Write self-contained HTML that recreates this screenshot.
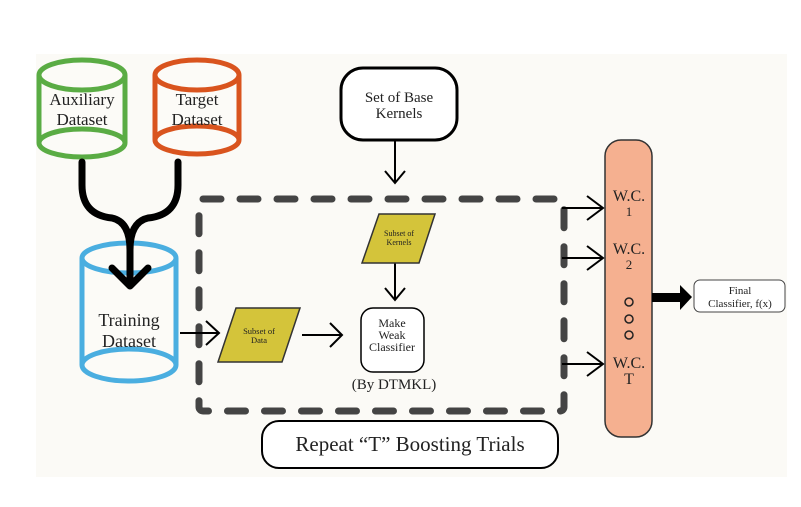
<!DOCTYPE html>
<html><head><meta charset="utf-8"><style>
html,body{margin:0;padding:0;background:#fff;}
svg{display:block;}
text{font-family:"Liberation Serif",serif;fill:#222;}
</style></head><body>
<svg width="801" height="507" viewBox="0 0 801 507" xmlns="http://www.w3.org/2000/svg">
<rect x="36" y="54" width="751" height="423" fill="#fbfaf6"/>
<!-- Aux cylinder -->
<g fill="#fcfbf7" stroke="#5aac44" stroke-width="5">
<path d="M39,75 L39,143 A43,14 0 0 0 125,143 L125,75"/>
<ellipse cx="82" cy="75" rx="43" ry="15"/>
<path d="M39,143 A43,14 0 0 1 125,143"/>
</g>
<text x="82" y="105" font-size="17" text-anchor="middle">Auxiliary</text>
<text x="82" y="125" font-size="17" text-anchor="middle">Dataset</text>
<!-- Target -->
<g fill="#fcfbf7" stroke="#d9541e" stroke-width="5">
<path d="M155,75 L155,140 A42,14 0 0 0 239,140 L239,75"/>
<ellipse cx="197" cy="75" rx="42" ry="15"/>
<path d="M155,140 A42,14 0 0 1 239,140"/>
</g>
<text x="197" y="105" font-size="17" text-anchor="middle">Target</text>
<text x="197" y="125" font-size="17" text-anchor="middle">Dataset</text>
<!-- Training -->
<g fill="#fcfbf7" stroke="#4aaee0" stroke-width="5">
<path d="M82,258 L82,365 A47,16 0 0 0 176,365 L176,258"/>
<ellipse cx="129" cy="258" rx="47" ry="15"/>
<path d="M82,365 A47,16 0 0 1 176,365"/>
</g>
<!-- merge arrows -->
<g fill="none" stroke="#000" stroke-width="7" stroke-linecap="round" stroke-linejoin="round">
<path d="M82,162 L82,185 Q82,215 112,218 Q130,222 130,250 L130,285"/>
<path d="M178,162 L178,185 Q178,215 148,218 Q130,222 130,250"/>
<path d="M112,268 L130,286 L148,268"/>
</g>
<text x="129" y="326" font-size="18" text-anchor="middle">Training</text>
<text x="129" y="347" font-size="18" text-anchor="middle">Dataset</text>
<!-- dashed rect -->
<rect x="199" y="199" width="365" height="212" rx="4" fill="none" stroke="#444" stroke-width="7" stroke-dasharray="18 19" stroke-linecap="round"/>
<!-- Set of Base Kernels -->
<rect x="341" y="68" width="116" height="72" rx="22" fill="#fff" stroke="#000" stroke-width="3"/>
<text x="399" y="102" font-size="15" text-anchor="middle">Set of Base</text>
<text x="399" y="118" font-size="15" text-anchor="middle">Kernels</text>
<g fill="none" stroke="#000" stroke-width="2">
<path d="M395,141 L395,183 M385,171 L395,183 L405,171"/>
<path d="M395,263 L395,300 M385,288 L395,300 L405,288"/>
<path d="M180,333 L219,333 M206,321 L219,333 L206,345"/>
<path d="M302,335 L342,335 M330,323 L342,335 L330,347"/>
<path d="M562,208 L603,208 M587,196 L603,208 L587,220"/>
<path d="M562,258 L603,258 M587,246 L603,258 L587,270"/>
<path d="M562,364 L603,364 M587,352 L603,364 L587,376"/>
</g>
<!-- Subset of Kernels -->
<polygon points="379,214 435,214 419,263 362,263" fill="#d4c43a" stroke="#333" stroke-width="1.5"/>
<text x="399" y="236" font-size="8" text-anchor="middle">Subset of</text>
<text x="399" y="245" font-size="8" text-anchor="middle">Kernels</text>
<!-- Subset of Data -->
<polygon points="236,308 300,308 282,362 218,362" fill="#d4c43a" stroke="#333" stroke-width="1.5"/>
<text x="259" y="334" font-size="8.5" text-anchor="middle">Subset of</text>
<text x="259" y="343" font-size="8.5" text-anchor="middle">Data</text>
<!-- Make Weak Classifier -->
<rect x="361" y="308" width="63" height="64" rx="12" fill="#fff" stroke="#000" stroke-width="1.5"/>
<text x="392" y="327" font-size="12" text-anchor="middle">Make</text>
<text x="392" y="339" font-size="12" text-anchor="middle">Weak</text>
<text x="392" y="351" font-size="12" text-anchor="middle">Classifier</text>
<text x="394" y="389" font-size="15" text-anchor="middle">(By DTMKL)</text>
<!-- WC bar -->
<rect x="605" y="140" width="47" height="297" rx="16" fill="#f5b090" stroke="#333" stroke-width="1.5"/>
<text x="629" y="201" font-size="16" text-anchor="middle">W.C.</text>
<text x="629" y="216" font-size="13" text-anchor="middle">1</text>
<text x="629" y="254" font-size="16" text-anchor="middle">W.C.</text>
<text x="629" y="269" font-size="13" text-anchor="middle">2</text>
<g fill="none" stroke="#222" stroke-width="1.5">
<circle cx="629" cy="302" r="4"/><circle cx="629" cy="319" r="4"/><circle cx="629" cy="335" r="4"/>
</g>
<text x="629" y="368" font-size="16" text-anchor="middle">W.C.</text>
<text x="629" y="384" font-size="16" text-anchor="middle">T</text>
<!-- thick arrow -->
<rect x="652" y="293" width="30" height="9" fill="#000"/>
<polygon points="680,285 692,297 680,310" fill="#000"/>
<rect x="694" y="280" width="91" height="32" rx="6" fill="#fff" stroke="#444" stroke-width="1"/>
<text x="740" y="294" font-size="11" text-anchor="middle">Final</text>
<text x="740" y="307" font-size="11" text-anchor="middle">Classifier, f(x)</text>
<!-- Repeat -->
<rect x="262" y="421" width="296" height="47" rx="17" fill="#fff" stroke="#000" stroke-width="2"/>
<text x="410" y="451" font-size="21" text-anchor="middle">Repeat “T” Boosting Trials</text>
</svg>
</body></html>
